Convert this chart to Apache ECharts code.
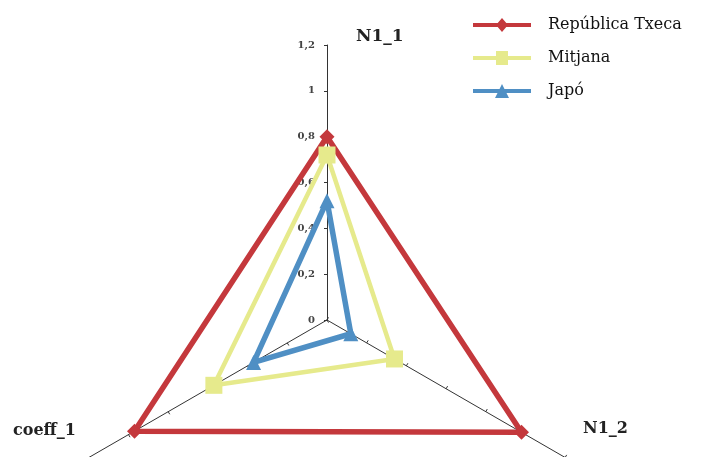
<!DOCTYPE html>
<html>
<head>
<meta charset="utf-8">
<script src="https://cdn.jsdelivr.net/npm/echarts@6/dist/echarts.min.js"></script>
<style>
  html, body { margin: 0; padding: 0; background: #fff; }
  #chart { width: 703px; height: 457px; }
</style>
</head>
<body>
<div id="chart"></div>
<script>
// indicadors (ordre ECharts: dalt, baix-esquerra, baix-dreta)
const indicators = ['N1_1', 'coeff_1', 'N1_2']
const axisMax = 1.2
const seriesNames = ['República Txeca', 'Mitjana', 'Japó']
const txeca = [0.8, 0.97, 0.98]
const mitjana = [0.72, 0.57, 0.34]
const japo = [0.52, 0.37, 0.12]

const colors = ['#c4383c', '#e6ea8c', '#4f8fc4']
const symbols = ['diamond', 'rect', 'triangle']
const legendIcons = [
  'path://M0,5h58v4h-58z M29,0 L35,7 L29,14 L23,7z',
  'path://M0,5h58v4h-58z M23,0h12v14h-12z',
  'path://M0,5h58v4h-58z M29,0 L36,14 L22,14z'
]

const chart = echarts.init(document.getElementById('chart'))

const values = [txeca, mitjana, japo]

const option = {
  animation: false,
  backgroundColor: '#fff',
  legend: {
    orient: 'vertical',
    left: 468,
    top: 12,
    itemWidth: 58,
    itemHeight: 14,
    itemGap: 17,
    textStyle: { fontFamily: 'DejaVu Serif', fontSize: 16, color: '#111', padding: [0, 0, 0, 12] },
    data: seriesNames.map((n, i) => ({ name: n, icon: legendIcons[i], itemStyle: { color: colors[i] } }))
  },
  radar: {
    center: [327, 320],
    radius: 275,
    startAngle: 90,
    splitNumber: 6,
    shape: 'polygon',
    axisName: { show: false },
    splitLine: { show: false },
    splitArea: { show: false },
    axisLine: { lineStyle: { color: '#333', width: 1 } },
    axisTick: { show: true, length: 3, lineStyle: { color: '#333' } },
    axisLabel: { show: false },
    indicator: indicators.map((n, i) => ({
      name: n,
      min: 0,
      max: axisMax,
      axisLabel: i === 0 ? {
        show: true,
        color: '#444',
        fontSize: 10,
        fontWeight: 'bold',
        fontFamily: 'DejaVu Serif',
        margin: 12,
        formatter: v => String(Math.round(v * 10) / 10).replace('.', ',')
      } : { show: false }
    }))
  },
  graphic: [
    { type: 'text', left: 356, top: 28, style: { text: 'N1_1', font: 'bold 17px "DejaVu Serif"', fill: '#222' } },
    { type: 'text', left: 583, top: 421, style: { text: 'N1_2', font: 'bold 16px "DejaVu Serif"', fill: '#222' } },
    { type: 'text', left: 13, top: 423, style: { text: 'coeff_1', font: 'bold 16px "DejaVu Serif"', fill: '#222' } }
  ],
  series: seriesNames.map((n, i) => ({
    type: 'radar',
    name: n,
    symbol: symbols[i],
    symbolSize: i === 1 ? 17 : 15,
    lineStyle: { color: colors[i], width: i === 1 ? 4.5 : 5.5 },
    itemStyle: { color: colors[i] },
    data: [{ name: n, value: values[i] }]
  }))
}

chart.setOption(option)
</script>
</body>
</html>
